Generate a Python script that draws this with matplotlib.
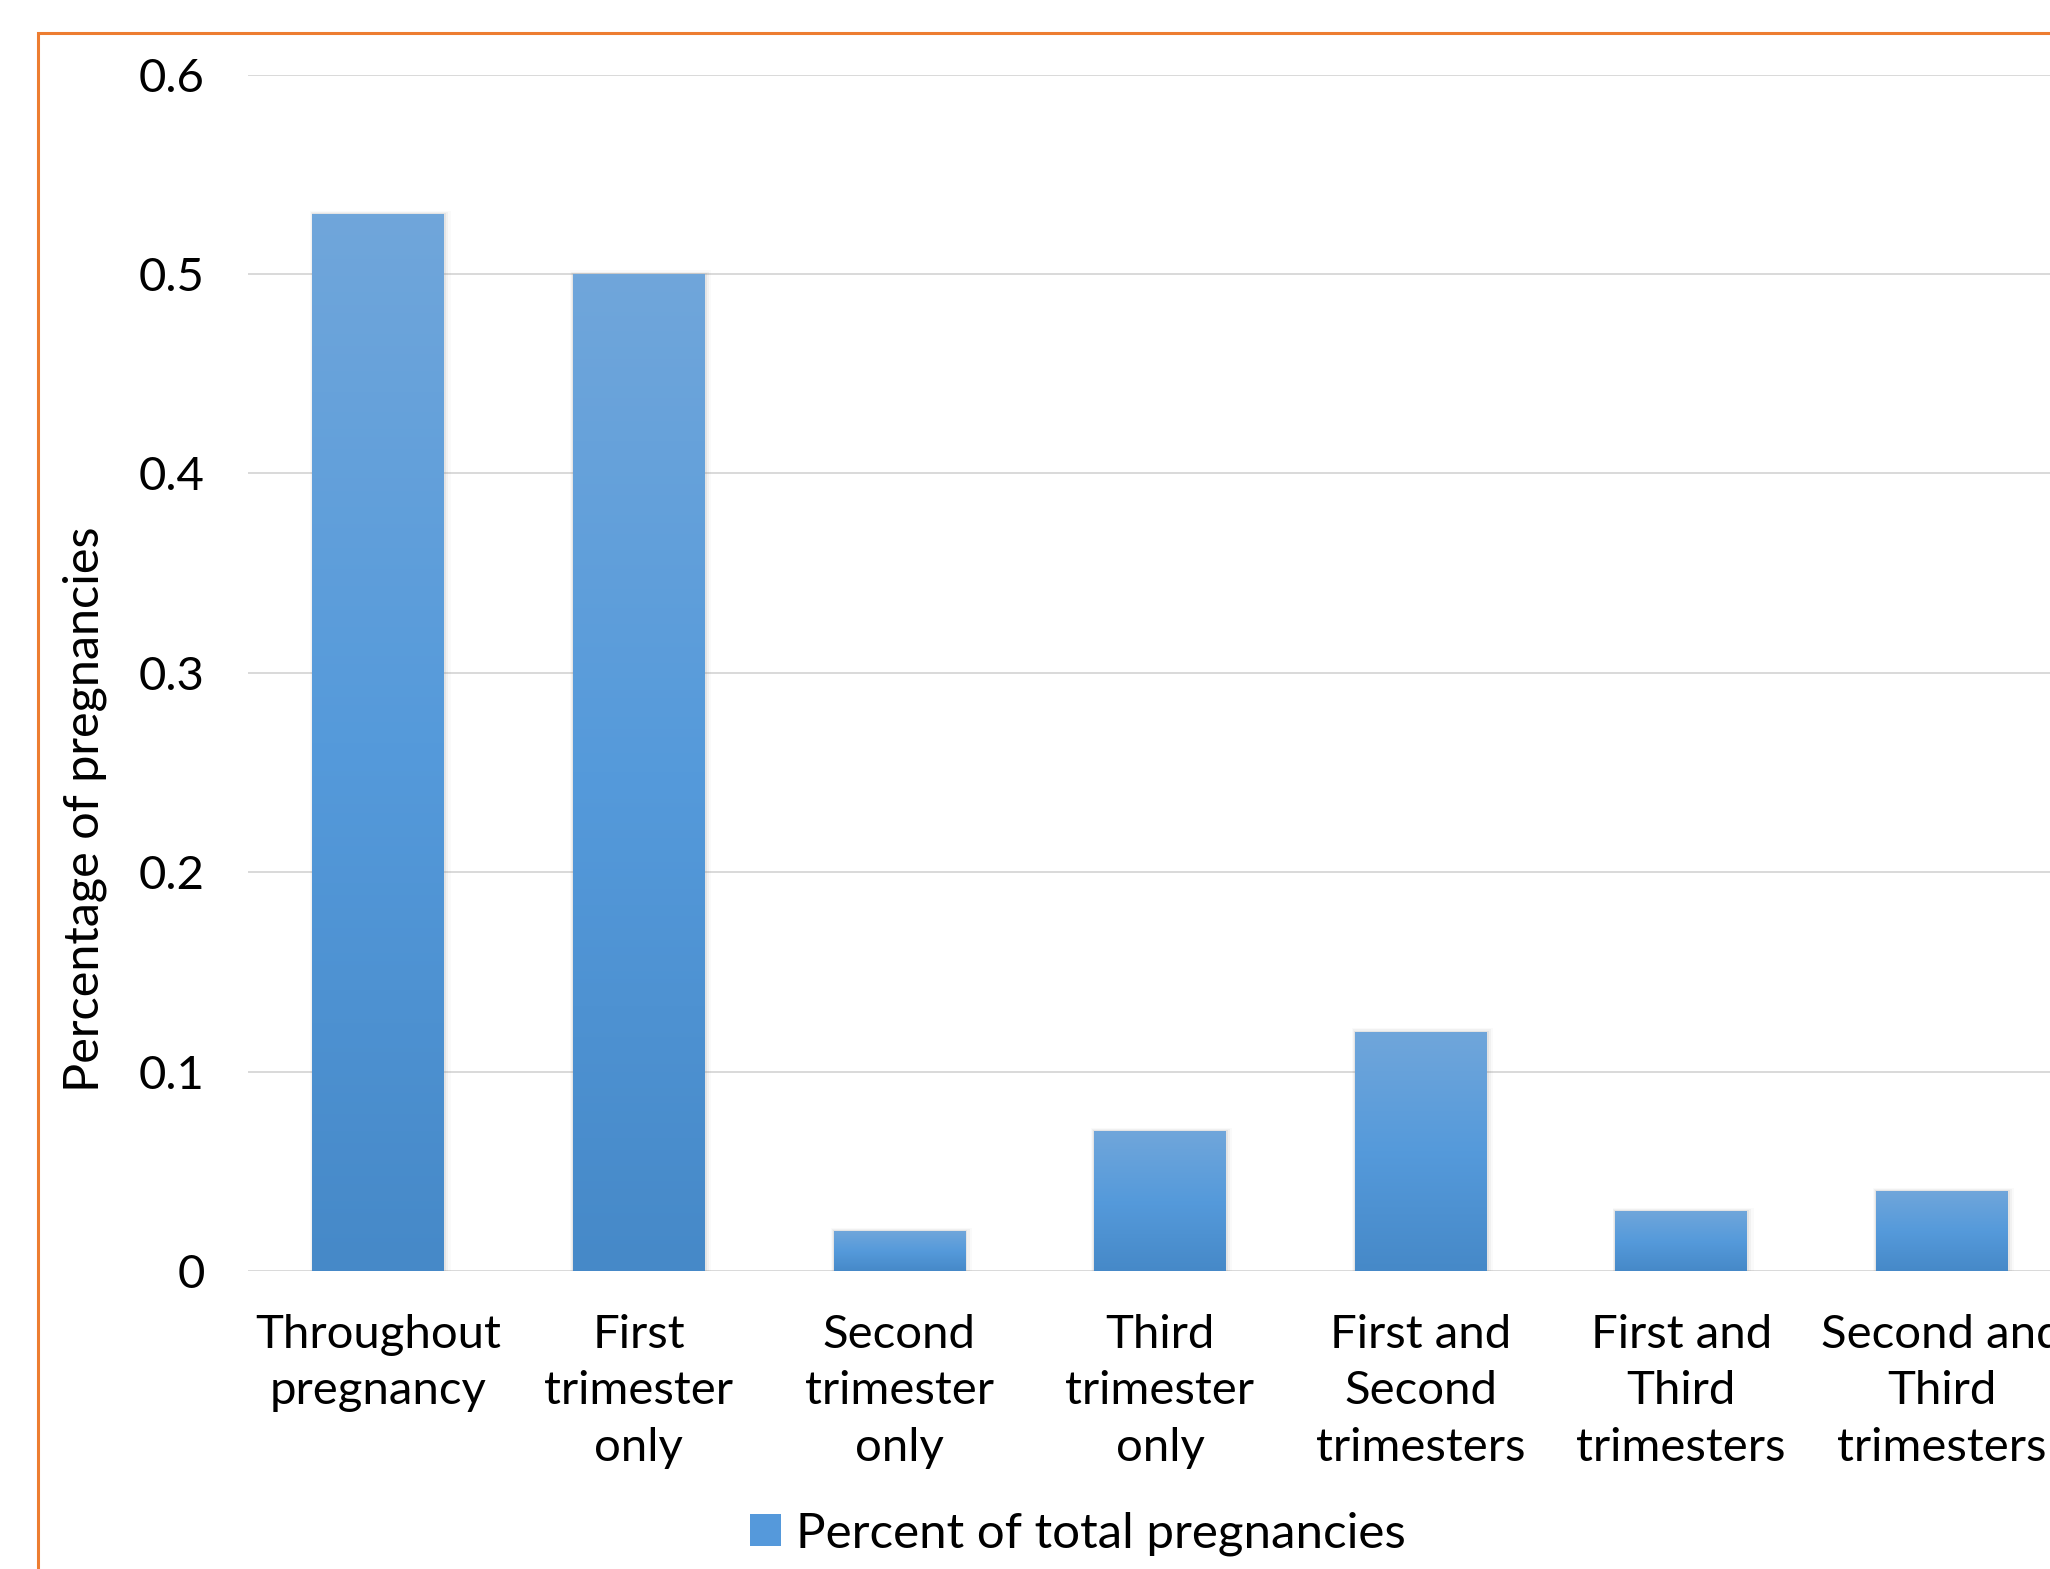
import numpy as np
import matplotlib
matplotlib.use("Agg")
import matplotlib.pyplot as plt
from matplotlib.colors import LinearSegmentedColormap
from matplotlib.patches import Rectangle, Patch

categories = ["Throughout\npregnancy", "First\ntrimester\nonly", "Second\ntrimester\nonly",
              "Third\ntrimester\nonly", "First and\nSecond\ntrimesters",
              "First and\nThird\ntrimesters", "Second and\nThird\ntrimesters"]
values = [0.53, 0.50, 0.02, 0.07, 0.12, 0.03, 0.04]
yticks = [0, 0.1, 0.2, 0.3, 0.4, 0.5, 0.6]
ytick_labels = ["0", "0.1", "0.2", "0.3", "0.4", "0.5", "0.6"]

plt.rcParams['font.family'] = ['Lato', 'DejaVu Sans']
W, H = 2050, 1569
fig = plt.figure(figsize=(W / 100, H / 100), dpi=100)

# axes runs past the right edge, the reference is cropped there
ax = fig.add_axes([248 / W, 298 / H, (2072 - 248) / W, (1271 - 74.5) / H])
ax.set_xlim(-0.5, 6.5)
ax.set_ylim(0, 0.6)

# excel style gradient, light at top, dark at bottom
cmap = LinearSegmentedColormap.from_list("bar", ["#4689C8", "#559ADB", "#70A6DA"])
grad = np.linspace(0, 1, 256).reshape(-1, 1)
x = np.arange(len(values))
bw = 0.505
bars = ax.bar(x, values, width=bw, color="none", zorder=3)
for b in bars:
    x0, y0 = b.get_x(), b.get_y()
    w, h = b.get_width(), b.get_height()
    # soft shadow
    for k, a in enumerate([0.10, 0.07, 0.04]):
        d = 0.006 * (k + 1)
        sh = Rectangle((x0 - d * 0.6, y0), w + 2 * d, h + d * 0.1, facecolor="#808080",
                       edgecolor="none", alpha=a, zorder=2)
        ax.add_patch(sh)
    im = ax.imshow(grad, cmap=cmap, aspect="auto", origin="lower",
                   extent=[x0, x0 + w, y0, y0 + h], zorder=3)
    im.set_clip_path(b)

ax.set_yticks(yticks)
ax.set_yticklabels(ytick_labels)
ax.set_xticks(x)
ax.set_xticklabels(categories, linespacing=1.42)
ax.tick_params(axis="both", length=0, labelsize=34)
ax.tick_params(axis="y", pad=31)
ax.tick_params(axis="x", pad=31)
ax.grid(axis="y", color="#D9D9D9", linewidth=1.4, zorder=0)
ax.set_axisbelow(True)
for s in ax.spines.values():
    s.set_visible(False)

fig.text(85 / W, 1 - 809 / H, "Percentage of pregnancies", rotation=90,
         ha="center", va="center", fontsize=35)

fig.legend(handles=[Patch(facecolor="#5599DB", label="Percent of total pregnancies")],
           loc="center", bbox_to_anchor=(1078 / W, 1 - 1534 / H), frameon=False,
           fontsize=35.5, handlelength=0.62, handleheight=0.62, handletextpad=0.3)

# orange chart-area border (left and top visible only)
fig.patches.append(Rectangle((38 / W, -0.1), 1.2, 1 - 33 / H + 0.1, transform=fig.transFigure,
                             fill=False, edgecolor="#ED7D31", linewidth=2.2, zorder=10))

fig.savefig("out.png", dpi=100)
